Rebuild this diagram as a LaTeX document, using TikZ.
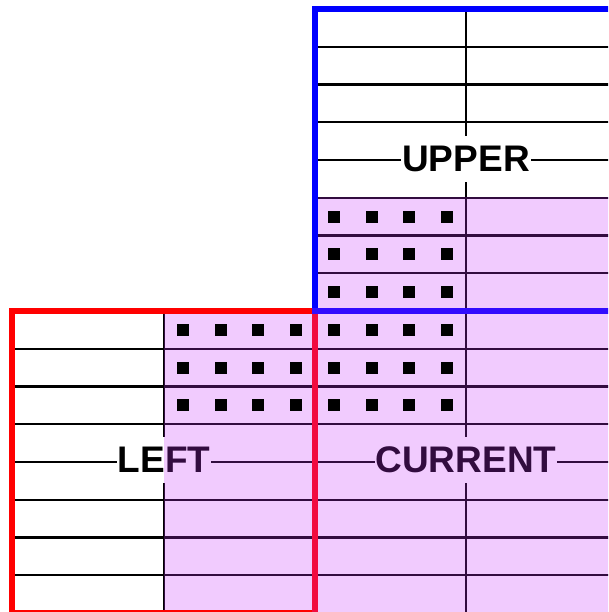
\documentclass[tikz,border=0pt]{standalone}
\usepackage{fontspec}
\setmainfont{Liberation Sans}
\begin{document}
\begin{tikzpicture}[x=1pt,y=-1pt,
  gridline/.style={line width=2.1pt,black},
  tint/.style={fill={rgb,255:red,200;green,48;blue,252},fill opacity=0.25},
  border/.style={line width=5.5pt},
  sq/.style={fill=black},
  lbl/.style={fill=white,inner xsep=1pt,inner ysep=0pt,minimum height=46pt,
              font=\fontsize{37}{40}\selectfont\bfseries}]
\useasboundingbox (0,0) rectangle (608,612);
\clip (0,0) rectangle (608,612);
\def\u{37.75}
% upper block grid
\foreach \k in {1,...,7} \draw[gridline] (315,{9+\k*\u}) -- (620,{9+\k*\u});
\draw[gridline] (466,9) -- (466,311);
% left block grid
\foreach \k in {1,...,7} \draw[gridline] (12,{311+\k*\u}) -- (315,{311+\k*\u});
\draw[gridline] (164,311) -- (164,613);
% current block grid
\foreach \k in {1,...,7} \draw[gridline] (315,{311+\k*\u}) -- (620,{311+\k*\u});
\draw[gridline] (466,311) -- (466,613);
% labels
\node[lbl] (upper) at (466,159) {UPPER};
\node[lbl] (left) at (164,460) {LEFT};
\node[lbl] (current) at (466,460) {CURRENT};
% tints under borders
\fill[tint] (164,311) rectangle (315,613);
\fill[tint] (315,197) rectangle (620,311);
% borders
\draw[border,red] (12,311) rectangle (315,613);
\draw[border,blue] (620,9) -- (315,9) -- (315,311) -- (620,311);
% current tint over borders
\fill[tint] (312.3,308.3) rectangle (620,620);
% dots
\foreach \i in {0,...,3} \foreach \r in {0,...,2} {
  \fill[sq] ({164+(\i+0.5)*\u-6},{311+(\r+0.5)*\u-6}) rectangle +(12,12);
  \fill[sq] ({315+(\i+0.5)*\u-6},{311+(\r+0.5)*\u-6}) rectangle +(12,12);
  \fill[sq] ({315+(\i+0.5)*\u-6},{197.75+(\r+0.5)*\u-6}) rectangle +(12,12);
}
\end{tikzpicture}
\end{document}
